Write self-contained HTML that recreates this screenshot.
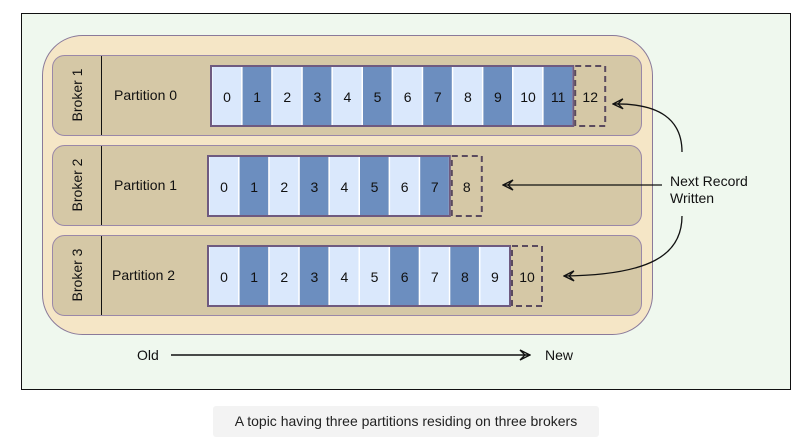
<!DOCTYPE html>
<html><head><meta charset="utf-8"><style>
body{margin:0;background:#fff;width:802px;height:447px;overflow:hidden;font-family:"Liberation Sans",sans-serif}
svg{display:block}
.caption{position:absolute;left:213px;top:406px;width:386px;height:31px;background:#f3f3f3;border-radius:3px;font-size:14px;line-height:31px;text-align:center;color:#222}
</style></head><body>
<svg width="802" height="447">
<defs>
<marker id="ah" viewBox="0 0 12 12" refX="11" refY="6" markerWidth="12" markerHeight="12" orient="auto" markerUnits="userSpaceOnUse">
<path d="M1,1 L11,6 L1,11 L6,6 Z" fill="none" stroke="#111" stroke-width="1.3"/>
</marker>
</defs>
<rect x="21.5" y="13.5" width="769" height="376" fill="#eff8ee" stroke="#111" stroke-width="1"/>
<rect x="42.5" y="35.5" width="610" height="299" rx="40" fill="#f5e6c6" stroke="#8a7a9a"/>
<g id="rows"></g>
<path d="M682,152 C682,120 660,103 613,104" fill="none" stroke="#111" stroke-width="1.3" marker-end="url(#ah)"/>
<path d="M662,185 L503,185" fill="none" stroke="#111" stroke-width="1.3" marker-end="url(#ah)"/>
<path d="M682,216 C682,255 650,275 564,276" fill="none" stroke="#111" stroke-width="1.3" marker-end="url(#ah)"/>
<text x="670" y="186" font-size="14" fill="#111"><tspan x="670">Next Record</tspan><tspan x="670" dy="17">Written</tspan></text>
<text x="137" y="360" font-size="14" fill="#111">Old</text>
<path d="M171,355 L530,355" fill="none" stroke="#111" stroke-width="1.4" marker-end="url(#ah)"/>
<text x="545" y="360" font-size="14" fill="#111">New</text>
</svg>
<div class="caption">A topic having three partitions residing on three brokers</div>
<script>
const brokers=["Broker 1","Broker 2","Broker 3"];
const partitions=["Partition 0","Partition 1","Partition 2"];
const p0Dark=[0,1,0,1,0,1,0,1,0,1,0,1];
const p1Dark=[0,1,0,1,0,1,0,1];
const p2Dark=[0,1,0,1,0,0,1,0,1,0];
const layouts=[{y:55,cx:211},{y:145,cx:208},{y:235,cx:208}];
const darks=[p0Dark,p1Dark,p2Dark];
const NS="http://www.w3.org/2000/svg";
const g=document.getElementById('rows');
function mk(tag,attrs,parent){const e=document.createElementNS(NS,tag);for(const k in attrs)e.setAttribute(k,attrs[k]);(parent||g).appendChild(e);return e;}
const cw=30.1;
brokers.forEach((b,i)=>{
 const L=layouts[i];const y=L.y;
 const row=mk('rect',{x:52.5,y:y+0.5,width:589,height:80,rx:12,fill:'#d5c8a6',stroke:'#9a88a8'});
 
 
 const ln=mk('line',{x1:101.5,y1:y+1,x2:101.5,y2:y+80,stroke:'#111'});
 
 
 const bt=mk('text',{x:0,y:0,'font-size':14,fill:'#111','text-anchor':'middle',transform:`translate(${77},${y+40}) rotate(-90)`,'dominant-baseline':'central'});
 bt.textContent=b;
 
 
 const pt=mk('text',{x:i==2?112:114,y:y+45,'font-size':14,fill:'#111'});
 pt.textContent=partitions[i];
 
 
 const d=darks[i];const n=d.length;const cy=y+11;const ch=60;
 const outer=mk('rect',{x:L.cx,y:cy,width:n*cw+1,height:ch,fill:'#fff',stroke:'#6e5a80','stroke-width':2});
 
 
 d.forEach((v,j)=>{
  const x=L.cx+1+j*cw;
  const c=mk('rect',{x:x+0.5,y:cy+1,width:cw-1.5,height:ch-2,fill:v?'#6c8ebf':'#dae8fc'});
  
  
  const t=mk('text',{x:x+cw/2,y:cy+36,'font-size':14,fill:'#111','text-anchor':'middle'});
  t.textContent=j;
  
  
 });
 const nx=L.cx+n*cw+3;
 const nb=mk('rect',{x:nx,y:cy,width:30,height:ch,fill:'none',stroke:'#5a4a5e','stroke-width':2,'stroke-dasharray':'6 4'});
 
 
 const nt=mk('text',{x:nx+15,y:cy+36,'font-size':14,fill:'#111','text-anchor':'middle'});
 nt.textContent=n;
 
 
});
</script>
</body></html>
